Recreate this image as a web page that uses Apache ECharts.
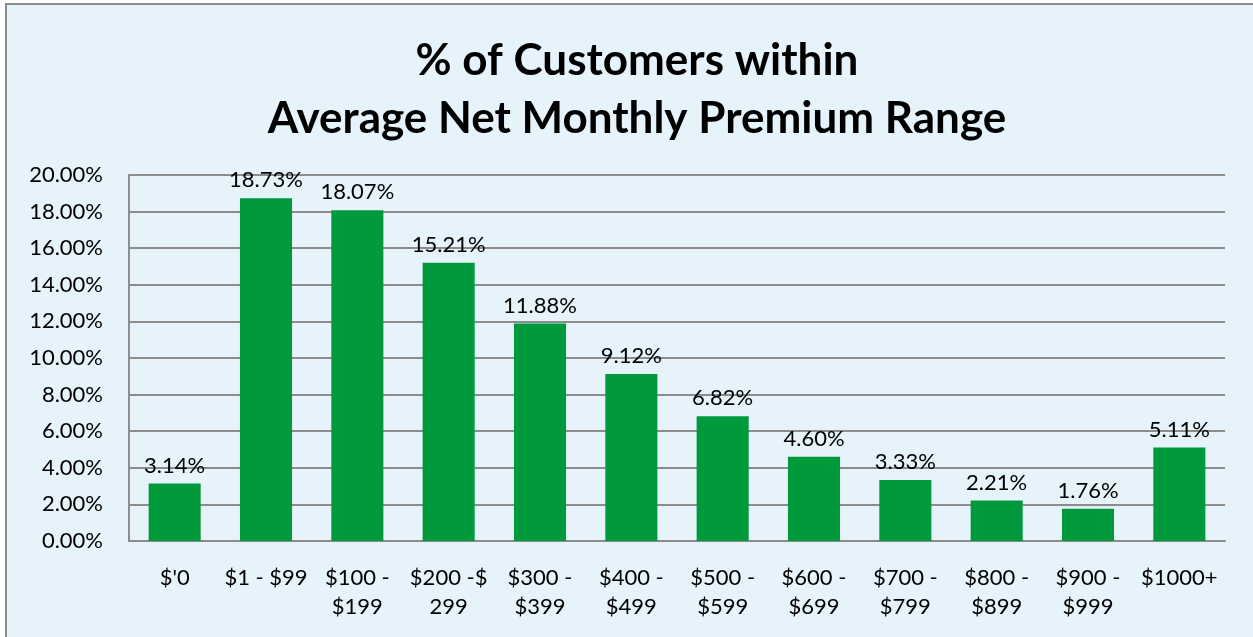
<!DOCTYPE html>
<html>
<head>
<meta charset="utf-8">
<script src="https://cdn.jsdelivr.net/npm/echarts@6/dist/echarts.min.js"></script>
<style>
  html, body { margin: 0; padding: 0; background: #ffffff; }
  #main { width: 1253px; height: 637px; }
</style>
</head>
<body>
<div id="main"></div>
<script>
// premium ranges and share of customers (%)
var categories = ["$'0", '$1 - $99', '$100 -\n$199', '$200 -$\n299', '$300 -\n$399', '$400 -\n$499',
    '$500 -\n$599', '$600 -\n$699', '$700 -\n$799', '$800 -\n$899', '$900 -\n$999', '$1000+'];
var shares = [3.14, 18.73, 18.07, 15.21, 11.88, 9.12, 6.82, 4.60, 3.33, 2.21, 1.76, 5.11];
var yTicks = { min: 0, max: 20, interval: 2 };

var font = 'Lato, "Open Sans", sans-serif';
var myChart = echarts.init(document.getElementById('main'));

var option = {
    backgroundColor: '#ffffff',
    textStyle: { fontFamily: font },
    graphic: [
        {
            type: 'rect',
            z: -10,
            shape: { x: 6, y: 4, width: 1300, height: 700 },
            style: { fill: '#e6f3fa', stroke: '#8c8c8c', lineWidth: 2 }
        }
    ],
    title: {
        text: '% of Customers within\nAverage Net Monthly Premium Range',
        left: 632,
        textAlign: 'center',
        top: 27,
        textStyle: {
            fontFamily: font,
            fontSize: 44,
            fontWeight: 'bold',
            color: '#000',
            lineHeight: 58
        }
    },
    grid: {
        left: 129,
        right: 28,
        top: 175,
        bottom: 96
    },
    xAxis: {
        type: 'category',
        data: categories,
        axisLine: { lineStyle: { color: '#8c8c8c', width: 2 } },
        axisTick: { show: false },
        axisLabel: {
            color: '#000',
            fontSize: 22,
            lineHeight: 29,
            margin: 22,
            interval: 0,
            fontFamily: font
        }
    },
    yAxis: {
        type: 'value',
        min: yTicks.min,
        max: yTicks.max,
        interval: yTicks.interval,
        axisLine: { show: true, lineStyle: { color: '#8c8c8c', width: 2 } },
        axisTick: { show: false },
        splitLine: { lineStyle: { color: '#8c8c8c', width: 2 } },
        axisLabel: {
            color: '#000',
            fontSize: 22,
            margin: 26,
            fontFamily: font,
            formatter: function (v) { return v.toFixed(2) + '%'; }
        }
    },
    series: [
        {
            type: 'bar',
            data: shares,
            barWidth: '57%',
            itemStyle: { color: '#009a3d' },
            label: {
                show: true,
                position: 'top',
                distance: 7,
                color: '#000',
                fontSize: 22,
                fontFamily: font,
                formatter: function (p) { return p.value.toFixed(2) + '%'; }
            }
        }
    ]
};

myChart.setOption(option);
</script>
</body>
</html>
